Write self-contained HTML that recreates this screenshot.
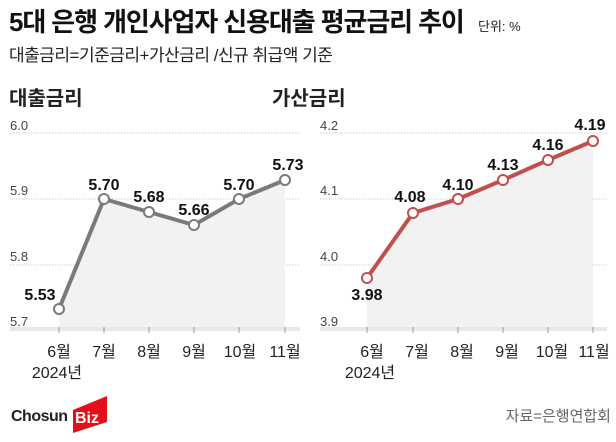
<!DOCTYPE html>
<html><head><meta charset="utf-8"><style>
body{margin:0;background:#fff;width:616px;height:437px;overflow:hidden}
text{font-family:"Liberation Sans","Noto Sans CJK KR",sans-serif}
</style></head><body>
<svg width="616" height="437" viewBox="0 0 616 437">
<text x="9" y="31" font-size="26" font-weight="bold" fill="#111" letter-spacing="-1.1">5대 은행 개인사업자 신용대출 평균금리 추이</text>
<text x="478" y="31" font-size="13" fill="#222">단위: %</text>
<text x="9" y="61" font-size="17" fill="#222" letter-spacing="-0.5">대출금리=기준금리+가산금리 /신규 취급액 기준</text>
<text x="9" y="105" font-size="20" font-weight="bold" fill="#222">대출금리</text>
<text x="272" y="105" font-size="20" font-weight="bold" fill="#222">가산금리</text>
<g font-size="13" fill="#444">
<text x="10" y="130">6.0</text><text x="10" y="195">5.9</text><text x="10" y="261">5.8</text><text x="10" y="326">5.7</text>
<text x="320" y="130">4.2</text><text x="320" y="195">4.1</text><text x="320" y="261">4.0</text><text x="320" y="326">3.9</text>
</g>
<g stroke="#ccc" stroke-dasharray="1.5 1.5">
<line x1="10" x2="300" y1="133" y2="133"/><line x1="10" x2="300" y1="199" y2="199"/><line x1="10" x2="300" y1="265" y2="265"/>
<line x1="320" x2="607" y1="133" y2="133"/><line x1="320" x2="607" y1="199" y2="199"/><line x1="320" x2="607" y1="265" y2="265"/>
</g>
<rect x="10" y="327" width="290" height="4" fill="#e8e8e8"/>
<rect x="320" y="327" width="287" height="4" fill="#e8e8e8"/>
<polygon points="59,309 104,199 149,212 194,225 239,199 285,180 285,327 59,327" fill="#f2f2f2"/>
<polygon points="367,278 413,213 458,199 503,180 548,160 593,141 593,327 367,327" fill="#f2f2f2"/>
<g stroke="#999" stroke-width="1">
<line x1="59" x2="59" y1="327" y2="333"/><line x1="104" x2="104" y1="327" y2="333"/><line x1="149" x2="149" y1="327" y2="333"/><line x1="194" x2="194" y1="327" y2="333"/><line x1="239" x2="239" y1="327" y2="333"/><line x1="285" x2="285" y1="327" y2="333"/>
<line x1="367" x2="367" y1="327" y2="333"/><line x1="413" x2="413" y1="327" y2="333"/><line x1="458" x2="458" y1="327" y2="333"/><line x1="503" x2="503" y1="327" y2="333"/><line x1="548" x2="548" y1="327" y2="333"/><line x1="593" x2="593" y1="327" y2="333"/>
</g>
<polyline points="59,309 104,199 149,212 194,225 239,199 285,180" fill="none" stroke="#7a7a7a" stroke-width="4"/>
<polyline points="367,278 413,213 458,199 503,180 548,160 593,141" fill="none" stroke="#c0504d" stroke-width="4"/>
<g fill="#fff" stroke="#7a7a7a" stroke-width="2">
<circle cx="59" cy="309" r="5"/><circle cx="104" cy="199" r="5"/><circle cx="149" cy="212" r="5"/><circle cx="194" cy="225" r="5"/><circle cx="239" cy="199" r="5"/><circle cx="285" cy="180" r="5"/>
</g>
<g fill="#fff" stroke="#c0504d" stroke-width="2">
<circle cx="367" cy="278" r="5"/><circle cx="413" cy="213" r="5"/><circle cx="458" cy="199" r="5"/><circle cx="503" cy="180" r="5"/><circle cx="548" cy="160" r="5"/><circle cx="593" cy="141" r="5"/>
</g>
<g font-size="16" font-weight="bold" fill="#111" text-anchor="middle">
<text x="40" y="300">5.53</text><text x="104" y="190">5.70</text><text x="149" y="202">5.68</text><text x="194" y="215">5.66</text><text x="239" y="190">5.70</text><text x="288" y="170">5.73</text>
<text x="367" y="300">3.98</text><text x="410" y="202">4.08</text><text x="458" y="190">4.10</text><text x="503" y="170">4.13</text><text x="548" y="150">4.16</text><text x="590" y="130">4.19</text>
</g>
<g font-size="16" fill="#222" text-anchor="middle">
<text x="59" y="357">6월</text><text x="104" y="357">7월</text><text x="149" y="357">8월</text><text x="194" y="357">9월</text><text x="240" y="357">10월</text><text x="285" y="357">11월</text>
<text x="57" y="378">2024년</text>
<text x="372" y="357">6월</text><text x="417" y="357">7월</text><text x="462" y="357">8월</text><text x="507" y="357">9월</text><text x="552" y="357">10월</text><text x="594" y="357">11월</text>
<text x="370" y="378">2024년</text>
</g>
<text x="11" y="421" font-size="16" font-weight="bold" fill="#222" letter-spacing="-0.5">Chosun</text>
<polygon points="73,410 107,396 107,422 73,433" fill="#e3101b"/>
<text x="75" y="423" font-size="16" font-weight="bold" fill="#fff">Biz</text>
<text x="611" y="421" font-size="15" fill="#666" text-anchor="end">자료=은행연합회</text>
</svg>
</body></html>
